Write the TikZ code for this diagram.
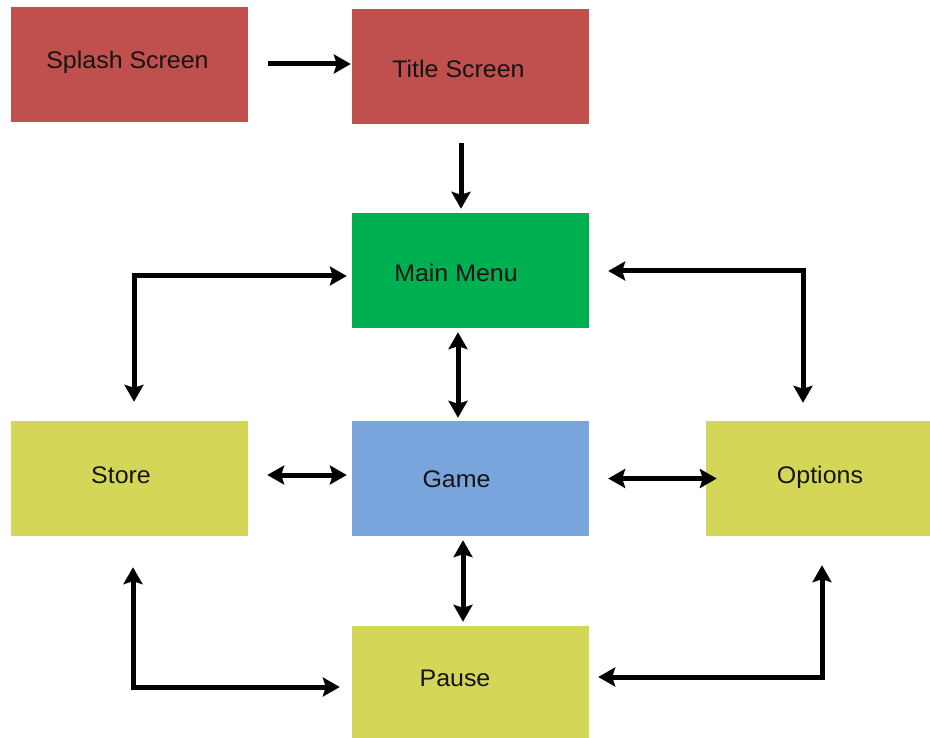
\documentclass[tikz,border=0pt]{standalone}
\usepackage{fontspec}
\setmainfont{Liberation Sans}[FakeStretch=1.04]
\usetikzlibrary{arrows.meta,calc}

\definecolor{boxred}{RGB}{192,80,77}
\definecolor{boxgreen}{RGB}{0,176,80}
\definecolor{boxblue}{RGB}{122,164,220}
\definecolor{boxyellow}{RGB}{212,214,88}
\definecolor{labelink}{RGB}{20,20,20}

\tikzset{
  screen/.style={draw=none, inner sep=0pt, minimum width=237pt, minimum height=115pt},
  lbl/.style={anchor=base, inner sep=0pt, text=labelink, font=\fontsize{24}{28}\selectfont},
  tip/.tip={Stealth[length=17pt,width=19pt,inset=3pt]},
  link/.style={line width=5pt, -tip},
  twoway/.style={line width=5pt, tip-tip}
}

\begin{document}
\begin{tikzpicture}[x=1pt,y=-1pt]
\useasboundingbox[fill=white] (0,0) rectangle (930,738);

% screens
\node[screen, fill=boxred]    (splash)  at (129.5,64.5) {};
\node[screen, fill=boxred]    (title)   at (470.5,66.5) {};
\node[screen, fill=boxgreen]  (main)    at (470.5,270.5) {};
\node[screen, fill=boxyellow] (store)   at (129.5,478.5) {};
\node[screen, fill=boxblue]   (game)    at (470.5,478.5) {};
\node[screen, fill=boxyellow, minimum width=224pt] (options) at (818,478.5) {};
\node[screen, fill=boxyellow, minimum height=112pt] (pause) at (470.5,682) {};

% labels
\node[lbl] (tsplash)  at (127.5,69)  {Splash Screen};
\node[lbl] (ttitle)   at (458.5,78)  {Title Screen};
\node[lbl] (tmain)    at (456,282)   {Main Menu};
\node[lbl] (tstore)   at (121,483)   {Store};
\node[lbl] (tgame)    at (456.5,487) {Game};
\node[lbl] (toptions) at (820,483)   {Options};
\node[lbl] (tpause)   at (455,686)   {Pause};

% one-way transitions
\draw[link] ($(splash.east)+(20,-0.5)$) -- ($(title.west)+(-1,-2.5)$);
\draw[link] ($(title.south)+(-9.5,19)$) -- ($(main.north)+(-9.5,-4)$);

% two-way transitions
\draw[twoway] ($(main.west)+(-5,5.5)$) -| ($(store.north)+(4.5,-19)$);
\draw[twoway] ($(main.east)+(19,0.5)$) -| ($(options.north)+(-15,-18)$);
\draw[twoway] ($(main.south)+(-12.5,4)$) -- ($(game.north)+(-12.5,-3)$);
\draw[twoway] ($(store.east)+(19,-3.5)$) -- ($(game.west)+(-5,-3.5)$);
\draw[twoway] ($(game.east)+(19,0)$) -- ($(options.west)+(11,0)$);
\draw[twoway] ($(game.south)+(-7.5,4)$) -- ($(pause.north)+(-7.5,-4)$);
\draw[twoway] ($(store.south)+(3.5,31)$) |- ($(pause.west)+(-12,5)$);
\draw[twoway] ($(pause.east)+(9,-5)$) -| ($(options.south)+(4,29)$);
\end{tikzpicture}
\end{document}
